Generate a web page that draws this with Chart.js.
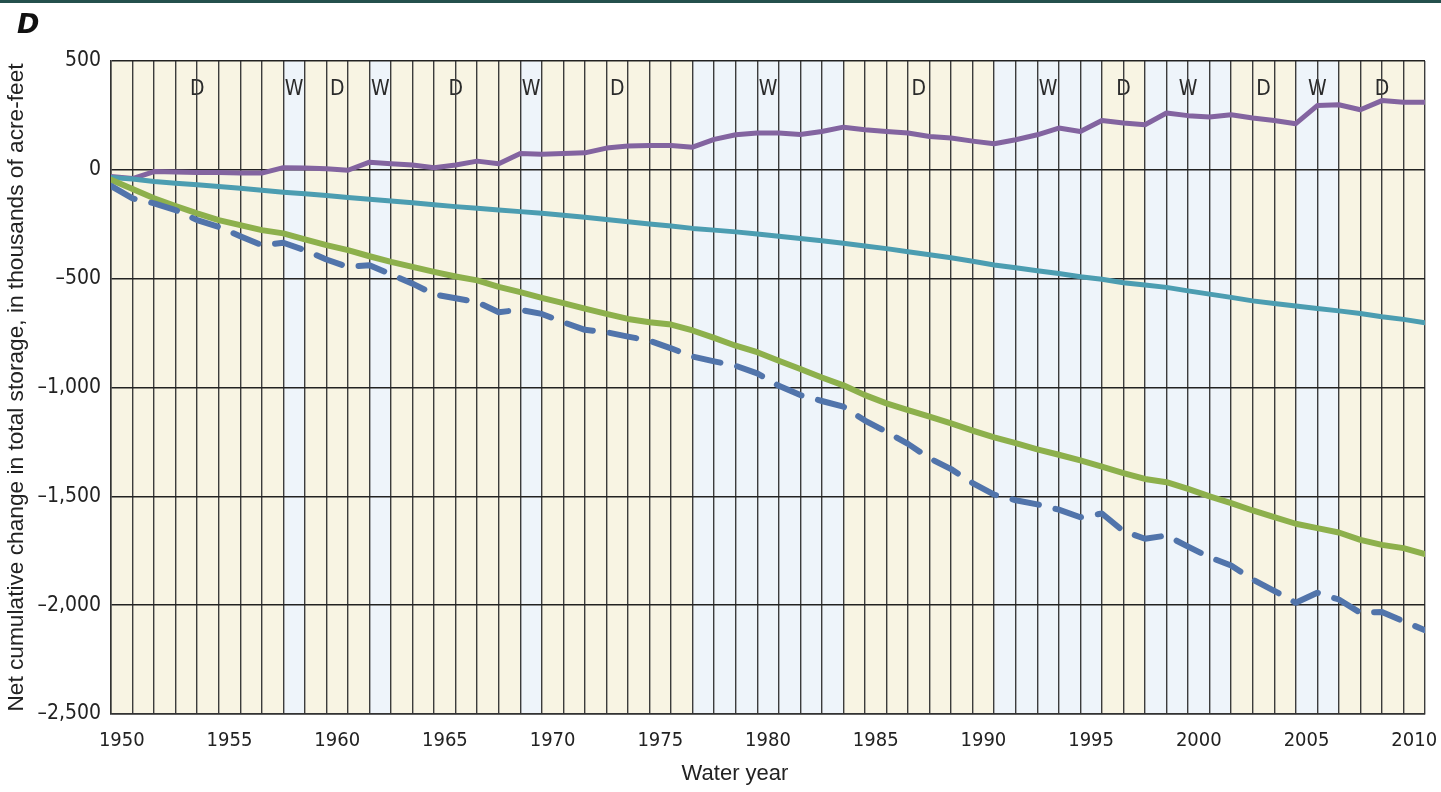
<!DOCTYPE html>
<html>
<head>
<meta charset="utf-8">
<script src="https://cdn.jsdelivr.net/npm/chart.js@4.4.1/dist/chart.umd.min.js"></script>
<style>
  html, body { margin: 0; padding: 0; background: #ffffff; }
  #wrap { position: relative; width: 1441px; height: 792px; overflow: hidden; background: #ffffff; }
  #topRule { position: absolute; left: 0; top: 0; width: 1441px; height: 3px; background: #24504d; }
  #panel { position: absolute; left: 17px; top: 8px; line-height: 28px;
           font: italic bold 27px 'DejaVu Sans', 'Liberation Sans', Arial, sans-serif; color: #111; }
  #xTitle { position: absolute; left: 635px; width: 200px; top: 760px; text-align: center;
            font: 22px 'Liberation Sans', Arial, sans-serif; color: #222; line-height: 26px; }
  canvas { position: absolute; left: 0; top: 0; }
</style>
</head>
<body>
<div id="wrap">
  <canvas id="chart" width="1441" height="792"></canvas>
  <div id="topRule"></div>
  <div id="panel">D</div>
  <div id="xTitle">Water year</div>
</div>
<script>
// End-of-year positions along the water-year axis
const waterYears = [1950,1951,1952,1953,1954,1955,1956,1957,1958,1959,
                    1960,1961,1962,1963,1964,1965,1966,1967,1968,1969,
                    1970,1971,1972,1973,1974,1975,1976,1977,1978,1979,
                    1980,1981,1982,1983,1984,1985,1986,1987,1988,1989,
                    1990,1991,1992,1993,1994,1995,1996,1997,1998,1999,
                    2000,2001,2002,2003,2004,2005,2006,2007,2008,2009,
                    2010,2011];

// Net cumulative change in storage, thousands of acre-feet
const seriesPurple = [-31,-40,-8,-10,-12,-12,-14,-15,10,8,
                      5,-2,35,28,22,10,22,40,28,75,
                      72,75,78,100,110,112,112,104,140,161,
                      169,169,162,176,196,184,176,169,153,146,
                      132,120,138,161,192,176,227,215,207,261,
                      249,243,253,238,227,212,295,299,276,318,
                      310,310];
const seriesTeal = [-35,-42,-54,-62,-69,-77,-85,-94,-103,-110,
                    -118,-127,-135,-143,-151,-160,-169,-177,-185,-192,
                    -200,-209,-218,-228,-238,-249,-258,-269,-277,-285,
                    -295,-305,-315,-326,-337,-350,-362,-376,-390,-404,
                    -420,-437,-450,-464,-476,-491,-503,-519,-529,-540,
                    -556,-571,-586,-602,-614,-626,-637,-648,-660,-675,
                    -687,-703];
const seriesGreen = [-46,-88,-131,-166,-200,-231,-254,-277,-292,-320,
                     -346,-369,-397,-423,-446,-469,-490,-508,-538,-562,
                     -588,-612,-638,-662,-685,-700,-711,-738,-772,-808,
                     -838,-877,-915,-954,-990,-1035,-1073,-1104,-1134,-1165,
                     -1198,-1229,-1256,-1284,-1309,-1335,-1363,-1393,-1420,-1435,
                     -1466,-1500,-1531,-1565,-1595,-1626,-1646,-1666,-1700,-1723,
                     -1738,-1765];
const seriesBlueDashed = [-74,-131,-154,-185,-231,-262,-305,-346,-335,-369,
                          -412,-446,-438,-480,-523,-572,-590,-608,-654,-643,
                          -662,-700,-735,-746,-766,-785,-820,-858,-880,-900,
                          -935,-992,-1035,-1062,-1088,-1152,-1204,-1259,-1325,-1375,
                          -1439,-1492,-1518,-1537,-1561,-1596,-1579,-1660,-1695,-1680,
                          -1731,-1780,-1818,-1882,-1934,-1989,-1943,-1974,-2035,-2031,
                          -2074,-2115];

// Axis labels
const yTickValues = [500, 0, -500, -1000, -1500, -2000, -2500];
const yTickLabels = ['500', '0', '\u2013500', '\u20131,000', '\u20131,500', '\u20132,000', '\u20132,500'];
const xTickYears  = [1950, 1955, 1960, 1965, 1970, 1975, 1980, 1985, 1990, 1995, 2000, 2005, 2010];
const xTickLabels = ['1950','1955','1960','1965','1970','1975','1980','1985','1990','1995','2000','2005','2010'];

// Dry (D) and wet (W) periods, as [start, end) in water years
const periodTypes  = ['D','W','D','W','D','W','D','W','D','W','D','W','D','W','D'];
const periodStarts = [1950,1958,1959,1962,1963,1969,1970,1977,1984,1991,1996,1998,2002,2005,2007];
const periodEnds   = [1958,1959,1962,1963,1969,1970,1977,1984,1991,1996,1998,2002,2005,2007,2011];

const NARROW = "'Liberation Sans Narrow', 'DejaVu Sans Condensed', 'Liberation Sans', Arial, sans-serif";
const bandFill = { D: '#f8f4e3', W: '#eef4fa' };

const toPoints = arr => waterYears.map((x, i) => ({ x: x, y: arr[i] }));

// Shaded period bands with their D / W captions, drawn beneath the grid
const periodBands = {
  id: 'periodBands',
  beforeDraw(chart) {
    const { ctx, chartArea, scales } = chart;
    const xs = scales.x;
    ctx.save();
    for (let i = 0; i < periodTypes.length; i++) {
      const x0 = xs.getPixelForValue(periodStarts[i]);
      const x1 = xs.getPixelForValue(periodEnds[i]);
      ctx.fillStyle = bandFill[periodTypes[i]];
      ctx.fillRect(x0, chartArea.top, x1 - x0, chartArea.bottom - chartArea.top);
    }
    ctx.fillStyle = '#2a2a2a';
    ctx.font = '21px ' + NARROW;
    ctx.textAlign = 'center';
    ctx.textBaseline = 'middle';
    for (let i = 0; i < periodTypes.length; i++) {
      const xc = xs.getPixelForValue((periodStarts[i] + periodEnds[i]) / 2);
      ctx.fillText(periodTypes[i], xc, 90);
    }
    ctx.restore();
  }
};

const lineStyle = { fill: false, pointRadius: 0, pointHoverRadius: 0, tension: 0,
                    borderJoinStyle: 'round', borderCapStyle: 'round' };

new Chart(document.getElementById('chart'), {
  type: 'line',
  data: {
    datasets: [
      Object.assign({ label: 'Cumulative change A', data: toPoints(seriesBlueDashed),
        borderColor: '#5174ab', borderWidth: 6, borderDash: [27, 17] }, lineStyle),
      Object.assign({ label: 'Cumulative change B', data: toPoints(seriesGreen),
        borderColor: '#8db04c', borderWidth: 6 }, lineStyle),
      Object.assign({ label: 'Cumulative change C', data: toPoints(seriesTeal),
        borderColor: '#4c9db1', borderWidth: 5 }, lineStyle),
      Object.assign({ label: 'Cumulative change D', data: toPoints(seriesPurple),
        borderColor: '#8364a0', borderWidth: 5 }, lineStyle)
    ]
  },
  options: {
    responsive: false,
    animation: false,
    layout: { padding: { left: 0, right: 16, top: 61, bottom: 0 } },
    plugins: { legend: { display: false }, tooltip: { enabled: false } },
    scales: {
      x: {
        type: 'linear',
        min: 1950,
        max: 2011,
        afterFit(scale) { scale.height = 78; },
        ticks: {
          stepSize: 0.5,
          autoSkip: false,
          maxRotation: 0,
          padding: 15,
          color: '#222',
          font: { family: NARROW, size: 20 },
          callback(value) {
            const i = xTickYears.indexOf(value - 0.5);
            return i >= 0 ? xTickLabels[i] : '';
          }
        },
        grid: {
          drawTicks: false,
          color: ctx => Number.isInteger(ctx.tick && ctx.tick.value) ? '#3c3c3c' : 'rgba(0,0,0,0)',
          lineWidth: ctx => Number.isInteger(ctx.tick && ctx.tick.value) ? 1.4 : 0
        },
        border: { display: true, color: '#333', width: 1.5 }
      },
      y: {
        type: 'linear',
        min: -2500,
        max: 500,
        afterFit(scale) { scale.width = 111; },
        ticks: {
          stepSize: 500,
          padding: 10,
          color: '#222',
          font: { family: NARROW, size: 21 },
          callback(value) {
            const i = yTickValues.indexOf(value);
            return i >= 0 ? yTickLabels[i] : '';
          }
        },
        grid: { drawTicks: false, color: '#222', lineWidth: 1.4 },
        border: { display: true, color: '#333', width: 1.5 },
        title: {
          display: true,
          text: 'Net cumulative change in total storage, in thousands of acre-feet',
          color: '#222',
          font: { family: "'Liberation Sans', Arial, sans-serif", size: 22.7, lineHeight: 1.1 },
          padding: { top: 4, bottom: 0 }
        }
      }
    }
  },
  plugins: [periodBands]
});
</script>
</body>
</html>
